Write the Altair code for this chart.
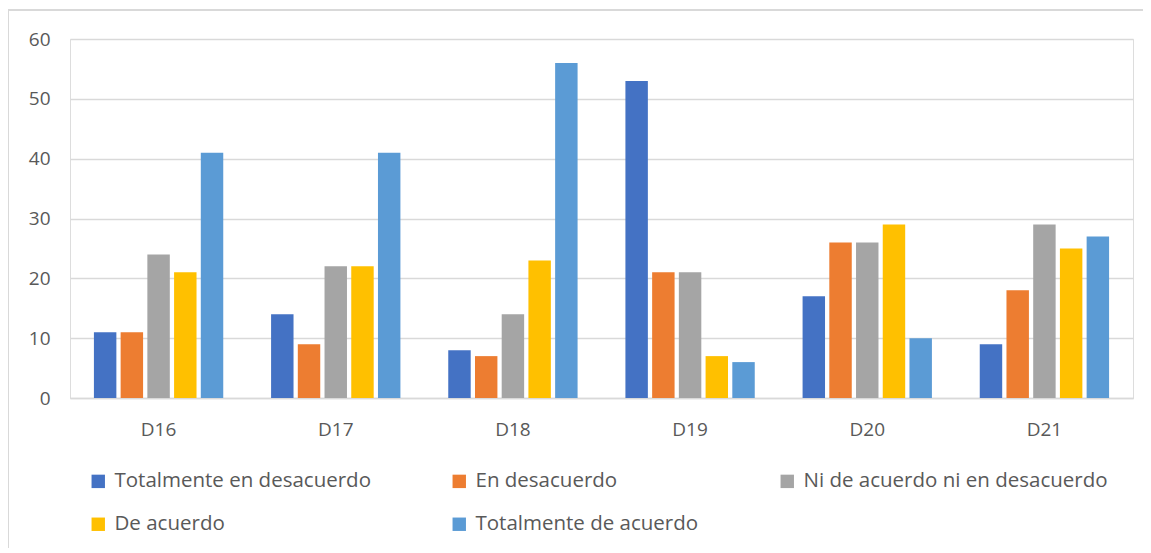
import altair as alt
import pandas as pd

categories = ["D16", "D17", "D18", "D19", "D20", "D21"]
series = ["Totalmente en desacuerdo", "En desacuerdo", "Ni de acuerdo ni en desacuerdo",
          "De acuerdo", "Totalmente de acuerdo"]
totalmente_desacuerdo = [11, 14, 8, 53, 17, 9]
en_desacuerdo = [11, 9, 7, 21, 26, 18]
ni_ni = [24, 22, 14, 21, 26, 29]
de_acuerdo = [21, 22, 23, 7, 29, 25]
totalmente_acuerdo = [41, 41, 56, 6, 10, 27]
colors = ["#4472C4", "#ED7D31", "#A5A5A5", "#FFC000", "#5B9BD5"]

rows = []
for s, vals in zip(series, [totalmente_desacuerdo, en_desacuerdo, ni_ni, de_acuerdo, totalmente_acuerdo]):
    for c, v in zip(categories, vals):
        rows.append({"cat": c, "serie": s, "valor": v})
df = pd.DataFrame(rows)

FONT = "Open Sans"
TXT = "#595959"

bars = alt.Chart(df).mark_bar().encode(
    x=alt.X("cat:N", sort=categories,
            scale=alt.Scale(paddingInner=0.27, paddingOuter=0.135),
            axis=alt.Axis(title=None, labelAngle=0, labelFontSize=19, labelColor=TXT,
                          labelFont=FONT, ticks=False, domainColor="#D9D9D9",
                          domainWidth=1.5, labelPadding=22)),
    xOffset=alt.XOffset("serie:N", sort=series,
                        scale=alt.Scale(paddingInner=0.16, paddingOuter=0)),
    y=alt.Y("valor:Q", scale=alt.Scale(domain=[0, 60], nice=False),
            axis=alt.Axis(title=None, values=[0, 10, 20, 30, 40, 50, 60], labelFontSize=19,
                          labelColor=TXT, labelFont=FONT, ticks=False, domain=False,
                          gridColor="#D9D9D9", gridWidth=1.5, labelPadding=20)),
    color=alt.Color("serie:N", sort=series,
                    scale=alt.Scale(domain=series, range=colors),
                    legend=alt.Legend(title=None, orient="none", legendX=18, legendY=432,
                                      columns=3, direction="horizontal",
                                      symbolType="square", symbolSize=180,
                                      symbolStrokeWidth=0, labelFontSize=20.5, labelColor=TXT,
                                      labelFont=FONT, columnPadding=78, rowPadding=22,
                                      labelLimit=400, labelOffset=6)),
)

border_df = pd.DataFrame({"k": [1]})
left_border = alt.Chart(border_df).mark_rule(color="#D9D9D9", strokeWidth=2).encode(
    x=alt.value(-62), y=alt.value(-29), y2=alt.value(520))
top_border = alt.Chart(border_df).mark_rule(color="#D9D9D9", strokeWidth=2).encode(
    x=alt.value(-62), x2=alt.value(1100), y=alt.value(-29))

chart = alt.layer(bars, left_border, top_border).properties(
    width=1063, height=359,
    autosize=alt.AutoSizeParams(type="none"),
    padding={"left": 62, "top": 31, "right": 10, "bottom": 150},
).configure_view(stroke=None).configure(background="white")

chart.save("out.html", embed_options={"renderer": "svg", "actions": False})
